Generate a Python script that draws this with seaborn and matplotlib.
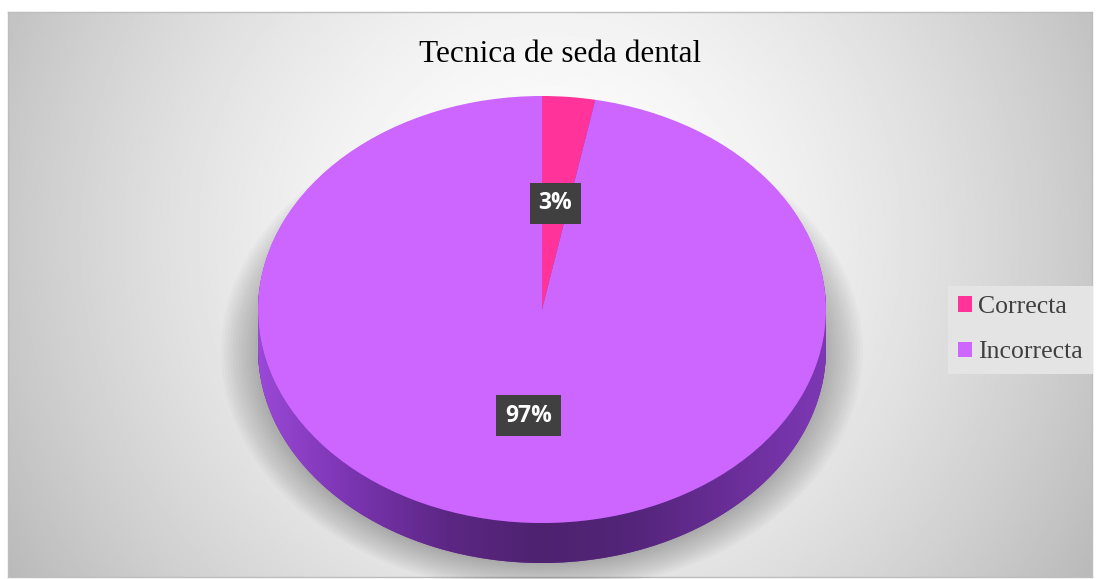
import numpy as np
import matplotlib.pyplot as plt
import seaborn as sns
from matplotlib.patches import Ellipse, Polygon
from matplotlib.colors import LinearSegmentedColormap

# data
categories = ['Correcta', 'Incorrecta']
values = [3, 97]
title = 'Tecnica de seda dental'

top_colors = ['#FF3399', '#CC66FF']
side_colors = ['#a0205f', '#6c2e9a']

sns.set_theme(style='white')
plt.rcParams['font.family'] = ['Liberation Serif', 'DejaVu Serif']

W, H = 1098, 579
fig = plt.figure(figsize=(W / 100, H / 100), dpi=100)
fig.patch.set_facecolor('white')


def frac(x0, y0, x1, y1):
    # pixel box (top-left origin) -> figure fraction rect
    return [x0 / W, 1 - y1 / H, (x1 - x0) / W, (y1 - y0) / H]


# background with radial gradient
bg = fig.add_axes(frac(8, 12, 1092, 577))
yy, xx = np.mgrid[-1:1:300j, -1:1:600j]
d = np.sqrt(0.95 * xx ** 2 + 0.25 * (yy + 0.2) ** 2)
shade = 1 - 0.22 * d ** 1.6
bg.imshow(shade, cmap='gray', vmin=0, vmax=1, aspect='auto', extent=(0, 1, 0, 1))
bg.set_xticks([])
bg.set_yticks([])
for s in bg.spines.values():
    s.set_color('#bdbdbd')
    s.set_linewidth(1)

# pie axes
depth = 40 / 213.5
ax = fig.add_axes(frac(258, 96, 826, 563))

# soft shadow
for i in range(14):
    sc = 1 + i * 0.01
    ax.add_patch(Ellipse((0, -depth - 0.01), 2 * sc, 2 * sc, facecolor='black',
                         alpha=0.018, lw=0, clip_on=False, zorder=0))

# side of the pie (stacked layers)
for k in np.linspace(depth, 0.004, 30):
    ax.pie(values, colors=side_colors, startangle=90, counterclock=False,
           center=(0, -k), radius=1, wedgeprops=dict(linewidth=0))

# shading on the visible side wall
t = np.linspace(np.pi, 2 * np.pi, 200)
wall = np.vstack([np.column_stack([np.cos(t), np.sin(t)]),
                  np.column_stack([np.cos(t[::-1]), np.sin(t[::-1]) - depth])])
clip = Polygon(wall, closed=True, facecolor='none', edgecolor='none')
ax.add_patch(clip)
side_cmap = LinearSegmentedColormap.from_list(
    'side', ['#9a48d6', '#7a34b0', '#5c2784', '#4e226f', '#54257a', '#6a2e98', '#7d38b4'])
grad = ax.imshow(np.linspace(0, 1, 256)[None, :], cmap=side_cmap, aspect='auto',
                 extent=(-1, 1, -1 - depth, 0), zorder=1.5)
grad.set_clip_path(clip)

# top face
wedges, texts, autotexts = ax.pie(
    values, colors=top_colors, startangle=90, counterclock=False,
    autopct=lambda p: f'{p:.0f}%', pctdistance=0.5,
    textprops=dict(color='white', fontweight='bold', fontsize=16.5,
                   family=['Open Sans', 'DejaVu Sans']),
    wedgeprops=dict(linewidth=0, zorder=2))
for w in wedges:
    w.set_zorder(2)
for tx in autotexts:
    tx.set_bbox(dict(boxstyle='square,pad=0.38', facecolor='#404040', edgecolor='none'))
    tx.set_zorder(10)

ax.set_xlim(-1, 1)
ax.set_ylim(-1 - depth, 1)
ax.set_aspect('auto')
ax.axis('off')

# title
fig.text(560 / W, 1 - 55 / H, title, ha='center', va='center', fontsize=22.5, color='black')

# legend
leg = fig.legend(wedges, categories, loc='upper left',
                 bbox_to_anchor=(948 / W, 1 - 286 / H), frameon=True, fontsize=18.5,
                 handlelength=0.55, handleheight=0.55, handletextpad=0.2,
                 labelspacing=0.9, borderpad=0.4, borderaxespad=0,
                 facecolor='#e4e4e4', edgecolor='none', fancybox=False, framealpha=1)
for tx in leg.get_texts():
    tx.set_color('#404040')

fig.savefig('out.png', dpi=100)
